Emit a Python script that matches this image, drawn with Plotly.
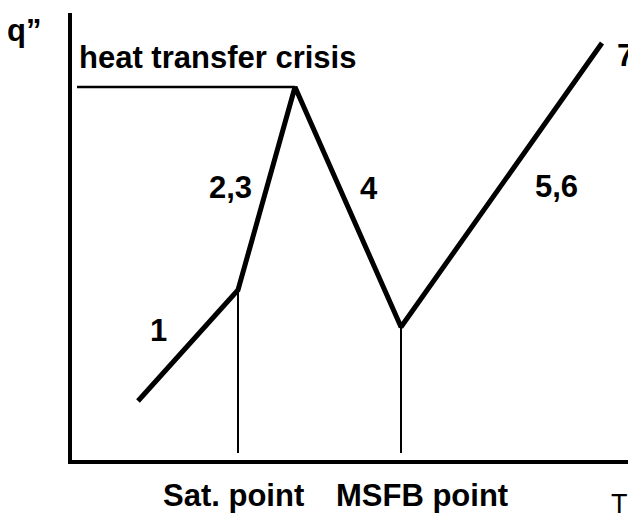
import plotly.graph_objects as go

# boiling curve, q'' vs T (arbitrary units, origin at the axes corner)
curve_T = [66, 166, 223, 329, 530]
curve_q = [59, 170, 373, 133, 417]

crisis_T = [5, 223]
crisis_q = [373, 373]

sat_T = 166
sat_q = 170
msfb_T = 329
msfb_q = 133

labels = ["1", "2,3", "4", "5,6", "7"]
label_T = [86, 158, 297, 484, 553]
label_q = [130, 273, 272, 274, 405]

T_MAX, Q_MAX = 564, 447

FONT = dict(family="Liberation Sans, Arial, sans-serif", size=31, color="black", weight="bold")

fig = go.Figure()
fig.add_trace(go.Scatter(x=crisis_T, y=crisis_q, mode="lines",
                         line=dict(color="black", width=2.5), hoverinfo="skip"))
fig.add_trace(go.Scatter(x=[sat_T, sat_T], y=[7, sat_q], mode="lines",
                         line=dict(color="black", width=2), hoverinfo="skip"))
fig.add_trace(go.Scatter(x=[msfb_T, msfb_T], y=[7, msfb_q], mode="lines",
                         line=dict(color="black", width=2), hoverinfo="skip"))
fig.add_trace(go.Scatter(x=curve_T, y=curve_q, mode="lines",
                         line=dict(color="black", width=5), hoverinfo="skip"))

for t, x, y in zip(labels, label_T, label_q):
    fig.add_annotation(x=x, y=y, text=t, showarrow=False, font=FONT)

fig.add_annotation(x=5, y=403, text="heat transfer crisis", showarrow=False,
                   xanchor="left", font=FONT)

# labels outside the axes: paper coordinates so they are not hidden
fig.add_annotation(xref="paper", yref="paper", x=-48 / T_MAX, y=430 / Q_MAX,
                   text="q”", showarrow=False, xanchor="center", yanchor="middle", font=FONT)
fig.add_annotation(xref="paper", yref="paper", x=89 / T_MAX, y=-36 / Q_MAX,
                   text="Sat. point", showarrow=False, xanchor="left", yanchor="middle", font=FONT)
fig.add_annotation(xref="paper", yref="paper", x=262 / T_MAX, y=-36 / Q_MAX,
                   text="MSFB point", showarrow=False, xanchor="left", yanchor="middle", font=FONT)
fig.add_annotation(xref="paper", yref="paper", x=547 / T_MAX, y=-61 / Q_MAX,
                   text="T", showarrow=False, xanchor="center", yanchor="bottom",
                   font=dict(FONT, size=27, weight="normal"))

fig.update_xaxes(range=[0, T_MAX], showline=True, linecolor="black", linewidth=4,
                 showgrid=False, zeroline=False, showticklabels=False, ticks="")
fig.update_yaxes(range=[0, Q_MAX], showline=True, linecolor="black", linewidth=4,
                 showgrid=False, zeroline=False, showticklabels=False, ticks="")
# page body has an 8px margin, so the figure is 8px smaller than the window
fig.update_layout(width=628, height=516, showlegend=False,
                  margin=dict(l=64, r=0, t=5, b=64),
                  plot_bgcolor="white", paper_bgcolor="white")
fig.write_html("out.html")
